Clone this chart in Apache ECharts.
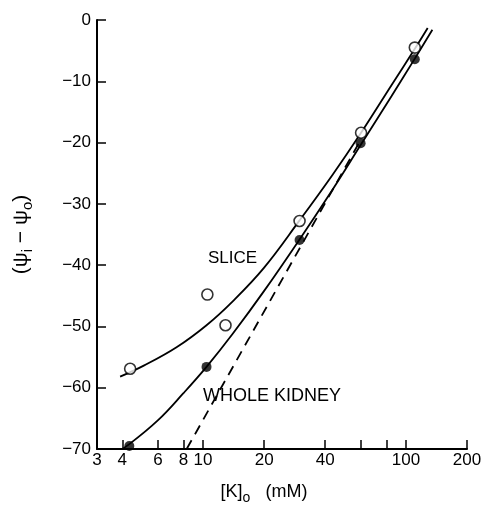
<!DOCTYPE html>
<html><head><meta charset="utf-8">
<script src="https://cdn.jsdelivr.net/npm/echarts@6/dist/echarts.min.js"></script>
<style>html,body{margin:0;padding:0;background:#fff}#c{width:488px;height:510px}</style>
</head><body><div id="c"></div>
<script>
// tick positions and labels
var xTickValues = [4, 6, 8, 10, 20, 40, 60, 80, 100, 200];
var xLabelValues = [3, 4, 6, 8, 10, 20, 40, 100, 200];

// measured points
var sliceK = [4.37, 10.5, 12.9, 29.9, 60.1, 110.6];
var sliceV = [-56.9, -44.8, -49.8, -32.8, -18.4, -4.5];
var wholeK = [4.33, 10.4, 29.9, 59.8, 110.6];
var wholeV = [-69.5, -56.6, -35.9, -20.1, -6.4];

// fitted curves
var sliceCurveK = [3.9, 5.1, 7.4, 10.4, 14, 20, 29.9, 43.6, 60.1, 85, 110.6, 128];
var sliceCurveV = [-58.2, -56.4, -53.4, -49.8, -45.9, -40.4, -32.7, -25.2, -18.4, -10.6, -4.7, -1.3];
var wholeCurveK = [3.55, 4.33, 6, 8, 10.4, 14, 20, 29.9, 43.6, 59.8, 85, 110.6, 135];
var wholeCurveV = [-71, -69.2, -65.3, -60.9, -56.6, -51.2, -44.2, -35.8, -27.6, -20.4, -12.4, -6.3, -1.6];
// dashed (Nernst) line
var nernstK = [8.3, 60];
var nernstV = [-70, -19.5];

function zip(a, b) { return a.map(function (v, i) { return [v, b[i]]; }); }

var FONT = 'Liberation Sans';
var chart = echarts.init(document.getElementById('c'), null, {renderer: 'canvas'});
chart.setOption({
  animation: false,
  backgroundColor: '#fff',
  textStyle: {fontFamily: FONT, color: '#000'},
  grid: {left: 97, right: 21, top: 20, bottom: 60, containLabel: false},
  xAxis: {
    type: 'log', logBase: 10, min: 3, max: 200,
    axisLine: {show: true, onZero: false, lineStyle: {color: '#000', width: 2}},
    axisTick: {show: true, inside: true, length: 9, lineStyle: {color: '#000', width: 1.5}, customValues: xTickValues},
    axisLabel: {show: true, customValues: xLabelValues, color: '#000', fontSize: 17, fontFamily: FONT, margin: 3,
      formatter: function (v) { return String(Math.round(v)); }},
    splitLine: {show: false},
    minorTick: {show: false},
    name: '[K]{sub|o}   (mM)',
    nameLocation: 'middle', nameGap: 30,
    nameTextStyle: {fontSize: 18, fontFamily: FONT, color: '#000', padding: [0, 36, 0, 0],
      rich: {sub: {fontSize: 14, fontFamily: FONT, color: '#000', verticalAlign: 'bottom', padding: [12, 0, 0, 0]}}}
  },
  yAxis: {
    type: 'value', min: -70, max: 0, interval: 10,
    axisLine: {show: true, onZero: false, lineStyle: {color: '#000', width: 2}},
    axisTick: {show: true, inside: true, length: 9, lineStyle: {color: '#000', width: 1.5}},
    axisLabel: {color: '#000', fontSize: 17, fontFamily: FONT, margin: 6,
      formatter: function (v) { return String(v).replace('-', '\u2212'); }},
    splitLine: {show: false},
    name: '(\u03C8{sub|i} \u2212 \u03C8{sub|o})',
    nameLocation: 'middle', nameGap: 62, nameRotate: 90,
    nameTextStyle: {fontSize: 21, fontFamily: FONT, color: '#000',
      rich: {sub: {fontSize: 15, fontFamily: FONT, color: '#000', padding: [12, 0, 0, 0]}}}
  },
  series: [
    {type: 'line', data: zip(nernstK, nernstV), showSymbol: false, symbol: 'none',
      lineStyle: {color: '#000', width: 1.8, type: [10, 7]}, z: 1},
    {type: 'line', data: zip(sliceCurveK, sliceCurveV), smooth: 0.4, showSymbol: false, symbol: 'none',
      lineStyle: {color: '#000', width: 1.8}, z: 2},
    {type: 'line', data: zip(wholeCurveK, wholeCurveV), smooth: 0.4, showSymbol: false, symbol: 'none',
      lineStyle: {color: '#000', width: 1.8}, z: 2},
    {type: 'scatter', data: zip(sliceK, sliceV), symbol: 'circle', symbolSize: 11,
      itemStyle: {color: '#fff', borderColor: '#000', borderWidth: 1.6}, z: 5},
    {type: 'scatter', data: zip(wholeK, wholeV), symbol: 'circle', symbolSize: 10,
      itemStyle: {color: '#000'}, z: 5}
  ],
  graphic: [
    {type: 'text', left: 208, top: 250, style: {text: 'SLICE', font: '17px "Liberation Sans"', fill: '#000'}},
    {type: 'text', left: 203, top: 387, style: {text: 'WHOLE KIDNEY', font: '18px "Liberation Sans"', fill: '#000'}}
  ]
});
</script></body></html>
